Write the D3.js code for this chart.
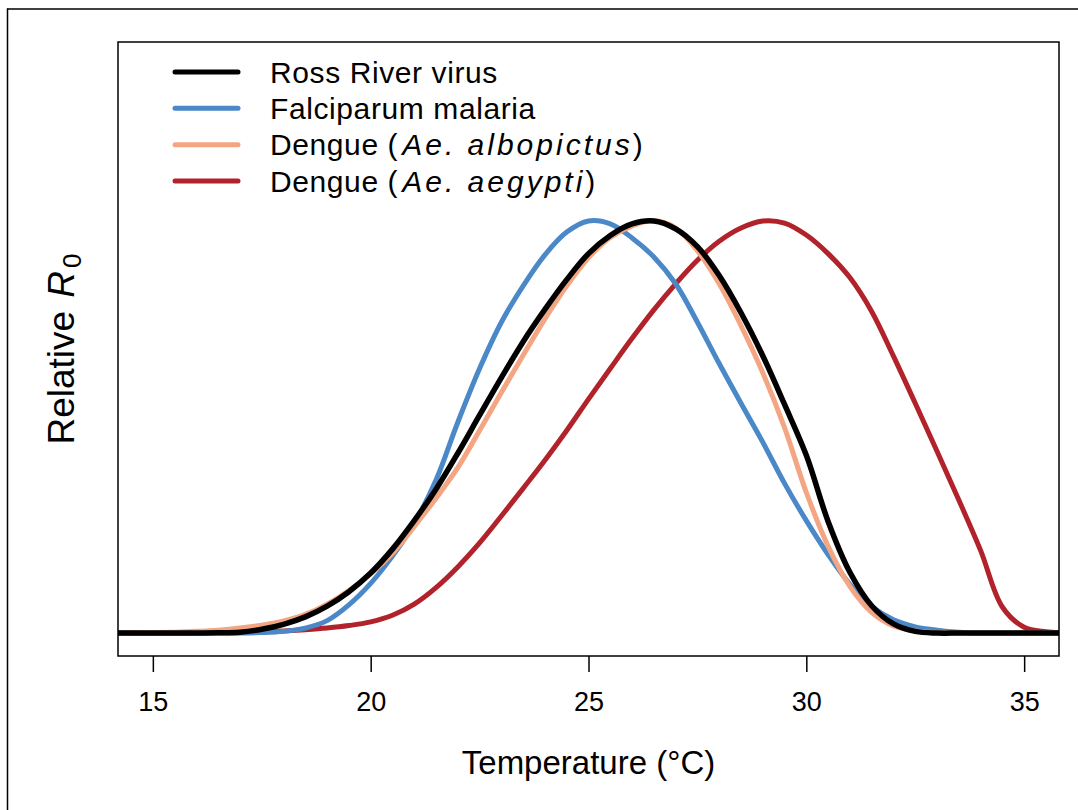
<!DOCTYPE html>
<html>
<head>
<meta charset="utf-8">
<script src="https://cdn.jsdelivr.net/npm/d3@7"></script>
<style>
  body { margin: 0; background: #fff; }
  svg { display: block; font-family: "Liberation Sans", Arial, Helvetica, sans-serif; }
</style>
</head>
<body>
<svg id="chart" width="1078" height="810"></svg>
<script>
// temperature grid (°C) shared by all curves
const temps = [14, 14.5, 15, 15.5, 16, 16.5, 17, 17.5, 18, 18.5, 19, 19.5, 20, 20.5, 21, 21.5,
  22, 22.5, 23, 23.5, 24, 24.5, 25, 25.5, 26, 26.5, 27, 27.5, 28, 28.5, 29, 29.5, 30, 30.5,
  31, 31.5, 32, 32.5, 33, 33.5, 34, 34.5, 35, 35.5, 36]

// relative R0
const rossRiver = [0, 0, 0, 0, 0, 0.0005, 0.002, 0.009, 0.021, 0.039, 0.065, 0.1, 0.145, 0.203, 0.272, 0.348,
  0.435, 0.527, 0.618, 0.705, 0.783, 0.855, 0.918, 0.962, 0.99, 0.997, 0.978, 0.935, 0.865, 0.775, 0.671, 0.553, 0.43, 0.27,
  0.147, 0.066, 0.022, 0.004, 0, 0, 0, 0, 0, 0, 0]
const falciparum = [0, 0, 0, 0, 0, 0, 0, 0.001, 0.004, 0.012, 0.03, 0.068, 0.12, 0.186, 0.265, 0.37,
  0.51, 0.64, 0.752, 0.84, 0.915, 0.97, 0.997, 0.99, 0.956, 0.91, 0.845, 0.752, 0.652, 0.556, 0.462, 0.362, 0.272, 0.19,
  0.118, 0.064, 0.032, 0.015, 0.007, 0.002, 0, 0, 0, 0, 0]
const albopictus = [0, 0.0005, 0.001, 0.002, 0.004, 0.007, 0.012, 0.019, 0.029, 0.045, 0.07, 0.103, 0.143, 0.193, 0.258, 0.326,
  0.4, 0.49, 0.582, 0.672, 0.76, 0.84, 0.908, 0.957, 0.985, 0.998, 0.98, 0.925, 0.845, 0.744, 0.63, 0.497, 0.34, 0.21,
  0.113, 0.05, 0.017, 0.005, 0.001, 0, 0, 0, 0, 0, 0]
const aegypti = [0, 0, 0, 0, 0.0005, 0.001, 0.002, 0.003, 0.005, 0.008, 0.012, 0.018, 0.027, 0.043, 0.07, 0.11,
  0.16, 0.218, 0.283, 0.35, 0.418, 0.49, 0.566, 0.64, 0.713, 0.782, 0.845, 0.902, 0.948, 0.98, 0.997, 0.992, 0.963, 0.918,
  0.86, 0.778, 0.67, 0.556, 0.44, 0.322, 0.2, 0.063, 0.014, 0.003, 0]

const seriesNames = ['Ross River virus', 'Falciparum malaria', 'Dengue (Ae. albopictus)', 'Dengue (Ae. aegypti)']
const seriesValues = [rossRiver, falciparum, albopictus, aegypti]
const seriesColors = ['#000000', '#4a88c8', '#f4a582', '#b2222a']
const xTicks = [15, 20, 25, 30, 35]

const svg = d3.select('#chart')

const box = { left: 118, right: 1059, top: 42, bottom: 656 }

const x = d3.scaleLinear()
  .domain([14.2, 35.8])
  .range([box.left, box.right])

const y = d3.scaleLinear()
  .domain([-0.0556, 1.43])
  .range([box.bottom, box.top])

// outer frame fragments (figure border)
svg.append('line')
  .attr('x1', 7.5).attr('x2', 7.5).attr('y1', 8.5).attr('y2', 810)
  .attr('stroke', '#000').attr('stroke-width', 1.5)
svg.append('line')
  .attr('x1', 7).attr('x2', 1078).attr('y1', 9).attr('y2', 9)
  .attr('stroke', '#000').attr('stroke-width', 1.5)

svg.append('clipPath')
  .attr('id', 'plotClip')
  .append('rect')
  .attr('x', box.left).attr('y', box.top)
  .attr('width', box.right - box.left).attr('height', box.bottom - box.top)

const line = d3.line()
  .x((d, i) => x(temps[i]))
  .y(d => y(d))
  .curve(d3.curveCatmullRom.alpha(0.5))

// draw in order: aegypti, falciparum, albopictus, then Ross River on top
const drawOrder = [3, 1, 2, 0]
svg.append('g')
  .attr('clip-path', 'url(#plotClip)')
  .selectAll('path')
  .data(drawOrder)
  .join('path')
  .attr('d', i => line(seriesValues[i]))
  .attr('fill', 'none')
  .attr('stroke', i => seriesColors[i])
  .attr('stroke-width', i => i === 0 ? 5.5 : 5)
  .attr('stroke-linejoin', 'round')

// plot box
svg.append('rect')
  .attr('x', box.left).attr('y', box.top)
  .attr('width', box.right - box.left).attr('height', box.bottom - box.top)
  .attr('fill', 'none')
  .attr('stroke', '#000')
  .attr('stroke-width', 1.5)

// x axis
const xAxis = d3.axisBottom(x)
  .tickValues(xTicks)
  .tickSize(16)
  .tickPadding(20)
  .tickFormat(d3.format('d'))

const xg = svg.append('g')
  .attr('transform', `translate(0,${box.bottom})`)
  .call(xAxis)
xg.select('.domain').remove()
xg.selectAll('line').attr('stroke-width', 1.5)
xg.selectAll('text')
  .attr('font-size', 27)
  .attr('fill', '#000')
  .attr('font-family', '"Liberation Sans", Arial, sans-serif')

svg.append('text')
  .attr('x', (box.left + box.right) / 2)
  .attr('y', 774)
  .attr('text-anchor', 'middle')
  .attr('font-size', 33)
  .text('Temperature (\u00B0C)')

// y label: Relative R0
const ylab = svg.append('text')
  .attr('transform', `translate(74,${(box.top + box.bottom) / 2}) rotate(-90)`)
  .attr('text-anchor', 'middle')
  .attr('font-size', 37)
ylab.append('tspan').text('Relative ')
ylab.append('tspan').attr('font-style', 'italic').attr('dx', 3).text('R')
ylab.append('tspan').attr('font-size', 26).attr('dx', 3).attr('dy', 7).text('0')

// legend
const legend = svg.append('g')
const rowY = d3.scalePoint().domain(d3.range(seriesNames.length)).range([72, 181])

const rows = legend.selectAll('g')
  .data(seriesNames)
  .join('g')
  .attr('transform', (d, i) => `translate(0,${rowY(i)})`)

rows.append('line')
  .attr('x1', 175).attr('x2', 238)
  .attr('stroke', (d, i) => seriesColors[i])
  .attr('stroke-width', 5)
  .attr('stroke-linecap', 'round')

rows.append('text')
  .attr('x', 270)
  .attr('dy', '0.35em')
  .attr('font-size', 30)
  .attr('letter-spacing', 0.6)
  .each(function(d) {
    const t = d3.select(this)
    const m = d.match(/^(.*\()(.+)(\))$/)
    if (!m) { t.text(d); return }
    t.append('tspan').text(m[1])
    t.append('tspan').attr('font-style', 'italic').attr('letter-spacing', 3).attr('dx', 4).text(m[2])
    t.append('tspan').text(m[3])
  })
</script>
</body>
</html>
